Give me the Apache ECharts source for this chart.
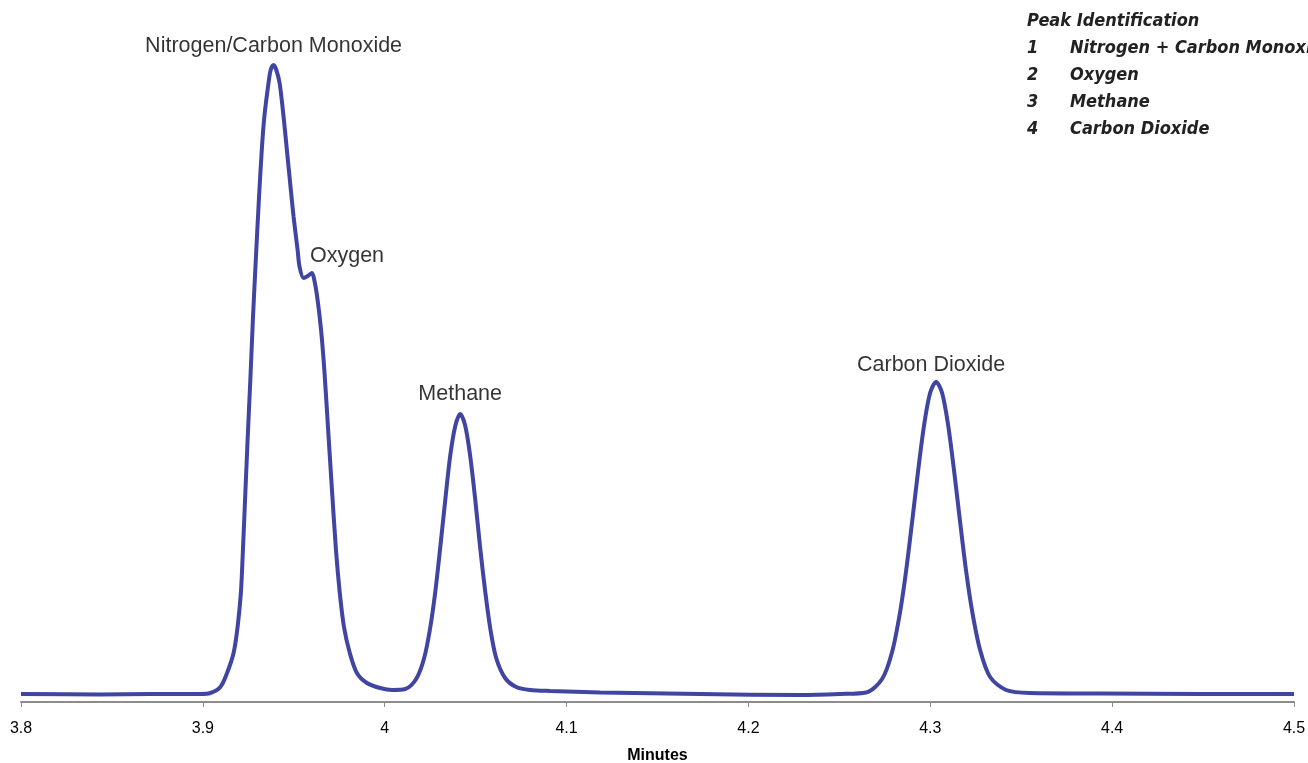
<!DOCTYPE html>
<html>
<head>
<meta charset="utf-8">
<script src="https://cdn.jsdelivr.net/npm/echarts@6/dist/echarts.min.js"></script>
<style>
  html, body { margin: 0; padding: 0; background: #fff; }
  #chart { width: 1308px; height: 763px; }
</style>
</head>
<body>
<div id="chart"></div>
<script>
// retention time (min) and detector response (arbitrary units)
var times = [
  3.8000, 3.8436, 3.8710, 3.8986, 3.9041, 3.9096, 3.9133, 3.9169, 3.9191, 3.9209,
  3.9218, 3.9232, 3.9246, 3.9261, 3.9275, 3.9291, 3.9308, 3.9324, 3.9338, 3.9361,
  3.9373, 3.9389, 3.9404, 3.9422, 3.9444, 3.9462, 3.9480, 3.9499, 3.9521, 3.9532,
  3.9554, 3.9577, 3.9600, 3.9615, 3.9631, 3.9650, 3.9668, 3.9689, 3.9710, 3.9732,
  3.9753, 3.9776, 3.9808, 3.9847, 3.9902, 3.9975, 4.0041,
  4.0113, 4.0173, 4.0217, 4.0250, 4.0278, 4.0305, 4.0333, 4.0360, 4.0388, 4.0415,
  4.0443, 4.0470, 4.0498, 4.0525, 4.0553, 4.0580, 4.0613, 4.0662, 4.0723, 4.0800,
  4.0910, 4.1185, 4.1735, 4.2284, 4.2504,
  4.2647, 4.2735, 4.2790, 4.2834, 4.2867, 4.2900, 4.2933, 4.2966, 4.2999, 4.3032,
  4.3065, 4.3098, 4.3131, 4.3164, 4.3197, 4.3230, 4.3274, 4.3329, 4.3417, 4.3549,
  4.3934, 4.4483, 4.5000];
var response = [
  8, 7.5, 8, 8, 9, 15, 29, 49, 75, 109,
  142, 202, 262, 322, 382, 442, 502, 552, 585, 619,
  632, 637, 632, 619, 585, 552, 519, 485, 452, 435,
  424, 426, 429, 420, 402, 372, 332, 272, 212, 152,
  109, 75, 49, 29, 19, 14, 12,
  13, 23, 44, 74, 110, 154, 202, 246, 276, 288,
  276, 246, 202, 154, 110, 74, 44, 24, 15, 12,
  11, 9.5, 8, 7, 8,
  9.5, 23, 50, 90, 131, 180, 231, 277, 309, 320,
  309, 277, 231, 180, 131, 91, 52, 25, 12, 9,
  8.5, 8, 8];

var peakNames = ['Nitrogen/Carbon Monoxide', 'Oxygen', 'Methane', 'Carbon Dioxide'];
var peakTimes = [3.9389, 3.9600, 4.0415, 4.3032];
var peakHeights = [637, 429, 288, 320];

var legendTitle = 'Peak Identification';
var legendNums = ['1', '2', '3', '4'];
var legendItems = ['Nitrogen + Carbon Monoxide', 'Oxygen', 'Methane', 'Carbon Dioxide'];

var chart = echarts.init(document.getElementById('chart'));

var lineData = times.map(function (t, i) { return [t, response[i]]; });
var labelDistance = [8, 0, 9, 6];
var labelData = peakNames.map(function (n, i) {
  var lbl = { show: true, formatter: n, position: 'top', distance: labelDistance[i], color: '#000' };
  if (i === 1) { lbl.position = 'right'; lbl.offset = [-2, -17]; }
  if (i === 3) { lbl.offset = [-5, 0]; }
  return { value: [peakTimes[i], peakHeights[i]], label: lbl };
});

var legendFont = "italic bold 18px 'Liberation Sans Narrow', 'DejaVu Sans Condensed', Arial, sans-serif";
var graphics = [{
  type: 'text', left: 1027, top: 12,
  style: { text: legendTitle, font: legendFont, fill: '#222' }
}];
legendNums.forEach(function (n, i) {
  graphics.push({ type: 'text', left: 1027, top: 39 + i * 27,
    style: { text: n, font: legendFont, fill: '#222' } });
  graphics.push({ type: 'text', left: 1070, top: 39 + i * 27,
    style: { text: legendItems[i], font: legendFont, fill: '#222' } });
});

var option = {
  animation: false,
  backgroundColor: '#fff',
  grid: { left: 21, right: 14, top: 2, bottom: 61, outerBoundsMode: 'none' },
  xAxis: {
    type: 'value',
    min: 3.8, max: 4.5, interval: 0.1,
    name: 'Minutes',
    nameLocation: 'middle',
    nameGap: 46,
    nameTextStyle: { fontFamily: 'Liberation Sans, Arial', fontWeight: 'bold', fontSize: 16, color: '#000' },
    axisLine: { lineStyle: { color: '#8c8c8c', width: 2 } },
    axisTick: { show: true, length: 5, lineStyle: { color: '#8c8c8c' } },
    axisLabel: {
      margin: 19, fontFamily: 'Liberation Sans, Arial', fontSize: 16, color: '#000',
      formatter: function (v) { return String(Math.round(v * 10) / 10); }
    },
    splitLine: { show: false }
  },
  yAxis: {
    type: 'value', min: 0, max: 700,
    show: false
  },
  series: [{
    type: 'line',
    data: lineData,
    smooth: 0.3,
    showSymbol: false,
    lineStyle: { color: '#3f45a0', width: 4 },
    z: 3
  }, {
    type: 'scatter',
    data: labelData,
    symbolSize: 0,
    label: { fontFamily: 'Liberation Sans, Arial', fontSize: 21.5, color: '#000' },
    z: 4
  }],
  graphic: graphics
};

chart.setOption(option);
</script>
</body>
</html>
